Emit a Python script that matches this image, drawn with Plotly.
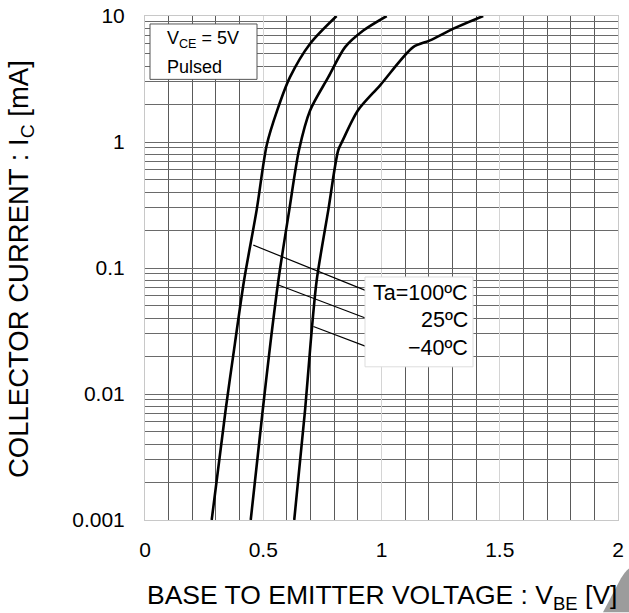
import plotly.graph_objects as go

# ---- data ----
vbe_100 = [0.282, 0.341, 0.380, 0.419, 0.472, 0.515, 0.559, 0.613, 0.698, 0.810]
ic_100 = [0.001, 0.0075, 0.025, 0.080, 0.288, 0.95, 1.78, 3.27, 6.03, 10]

vbe_25 = [0.447, 0.498, 0.530, 0.564, 0.610, 0.651, 0.698, 0.775, 0.846, 0.923, 1.022]
ic_25 = [0.001, 0.0075, 0.025, 0.080, 0.288, 0.86, 1.78, 3.27, 5.66, 7.67, 10]

vbe_m40 = [0.631, 0.677, 0.700, 0.726, 0.775, 0.817, 0.836, 0.900, 0.994, 1.134, 1.205, 1.304, 1.430]
ic_m40 = [0.001, 0.0075, 0.025, 0.080, 0.288, 0.86, 1.03, 1.78, 2.82, 5.66, 6.40, 7.93, 10]

# label pointer lines
ptr_100_x = [0.458, 0.945]
ptr_100_y = [0.152, 0.0649]
ptr_25_x = [0.564, 0.954]
ptr_25_y = [0.0733, 0.0387]
ptr_m40_x = [0.712, 0.973]
ptr_m40_y = [0.0343, 0.0224]

x_major = [0, 0.5, 1, 1.5, 2]
x_major_text = ["0", "0.5", "1", "1.5", "2"]
x_minor = [round(i * 0.1, 1) for i in range(21) if i % 5 != 0]
y_major = [0.001, 0.01, 0.1, 1, 10]
y_major_text = ["0.001", "0.01", "0.1", "1", "10"]
y_minor = [m * d for d in [0.001, 0.01, 0.1, 1] for m in range(2, 10)]

FONT = "Liberation Sans, Arial, sans-serif"

fig = go.Figure()
for xs, ys in [(vbe_100, ic_100), (vbe_25, ic_25), (vbe_m40, ic_m40)]:
    fig.add_trace(go.Scatter(x=xs, y=ys, mode="lines",
                             line=dict(color="black", width=2.6, shape="spline", smoothing=0.8),
                             showlegend=False, hoverinfo="skip"))
for xs, ys in [(ptr_100_x, ptr_100_y), (ptr_25_x, ptr_25_y), (ptr_m40_x, ptr_m40_y)]:
    fig.add_trace(go.Scatter(x=xs, y=ys, mode="lines",
                             line=dict(color="black", width=1.2),
                             showlegend=False, hoverinfo="skip"))

# page geometry
W, H = 629, 613
L, R, T, B = 145, 618, 15.5, 520.5


def px(x):
    return (x - L) / (R - L)


def py(y):
    return (B - y) / (B - T)


corner_path = "M {:.4f},{:.4f} L {:.4f},{:.4f} Q {:.4f},{:.4f} {:.4f},{:.4f} L {:.4f},{:.4f} Z".format(
    px(603), py(613), px(621), py(579), px(625), py(572), px(629), py(569), px(629), py(613))

shapes = [
    dict(type="rect", xref="paper", yref="paper", x0=px(150), x1=px(257), y0=py(79), y1=py(23.5),
         fillcolor="white", line=dict(color="#555555", width=1), layer="above"),
    dict(type="rect", xref="paper", yref="paper", x0=px(365), x1=px(473), y0=py(367), y1=py(277),
         fillcolor="white", line=dict(color="#dddddd", width=1), layer="above"),
    dict(type="path", xref="paper", yref="paper", path=corner_path,
         fillcolor="#9c9c9c", line=dict(width=0), layer="below"),
]

annotations = [
    dict(text="V<sub>CE</sub> = 5V", x=px(165), y=py(39), xref="paper", yref="paper",
         xanchor="left", yanchor="middle", showarrow=False, font=dict(family=FONT, size=18, color="black")),
    dict(text="Pulsed", x=px(165), y=py(66.5), xref="paper", yref="paper",
         xanchor="left", yanchor="middle", showarrow=False, font=dict(family=FONT, size=18, color="black")),
    dict(text="Ta=100ºC", x=px(470), y=py(293), xref="paper", yref="paper",
         xanchor="right", yanchor="middle", showarrow=False, font=dict(family=FONT, size=21.5, color="black")),
    dict(text="25ºC", x=px(470), y=py(320), xref="paper", yref="paper",
         xanchor="right", yanchor="middle", showarrow=False, font=dict(family=FONT, size=21.5, color="black")),
    dict(text="−40ºC", x=px(470), y=py(348), xref="paper", yref="paper",
         xanchor="right", yanchor="middle", showarrow=False, font=dict(family=FONT, size=21.5, color="black")),
    dict(text="BASE TO EMITTER VOLTAGE : V<sub>BE</sub> [V]", x=px(382), y=py(598),
         xref="paper", yref="paper", xanchor="center", yanchor="middle", showarrow=False,
         font=dict(family=FONT, size=26.5, color="black")),
    dict(text="COLLECTOR CURRENT : I<sub>C</sub> [mA]", x=px(21), y=py(269), textangle=-90,
         xref="paper", yref="paper", xanchor="center", yanchor="middle", showarrow=False,
         font=dict(family=FONT, size=27.5, color="black")),
]

fig.update_layout(
    width=W, height=H,
    margin=dict(l=L, r=W - R, t=T, b=H - B, pad=0, autoexpand=False),
    paper_bgcolor="white", plot_bgcolor="white",
    shapes=shapes, annotations=annotations,
    font=dict(family=FONT, color="black"),
)
fig.update_xaxes(
    range=[0, 2], tickmode="array", tickvals=x_major, ticktext=x_major_text,
    showgrid=True, gridcolor="#d4d4d4", gridwidth=1,
    minor=dict(tickmode="array", tickvals=x_minor, showgrid=True, gridcolor="#5a5a5a", gridwidth=1),
    showline=True, mirror=True, linecolor="#c8c8c8", linewidth=1,
    ticks="", zeroline=False, tickfont=dict(family=FONT, size=21, color="black"),
    ticklabelstandoff=11, automargin=False, ticklabeloverflow="allow",
)
fig.update_yaxes(
    type="log", range=[-3, 1], tickmode="array", tickvals=y_major, ticktext=y_major_text,
    showgrid=True, gridcolor="#6a6a6a", gridwidth=1,
    minor=dict(tickmode="array", tickvals=y_minor, showgrid=True, gridcolor="#6a6a6a", gridwidth=1),
    showline=True, mirror=True, linecolor="#c8c8c8", linewidth=1,
    ticks="", zeroline=False, tickfont=dict(family=FONT, size=21, color="black"),
    ticklabelstandoff=15, automargin=False, ticklabeloverflow="allow",
)

fig.write_html("out.html", config={"displayModeBar": False},
               post_script="document.body.style.margin='0px';")
